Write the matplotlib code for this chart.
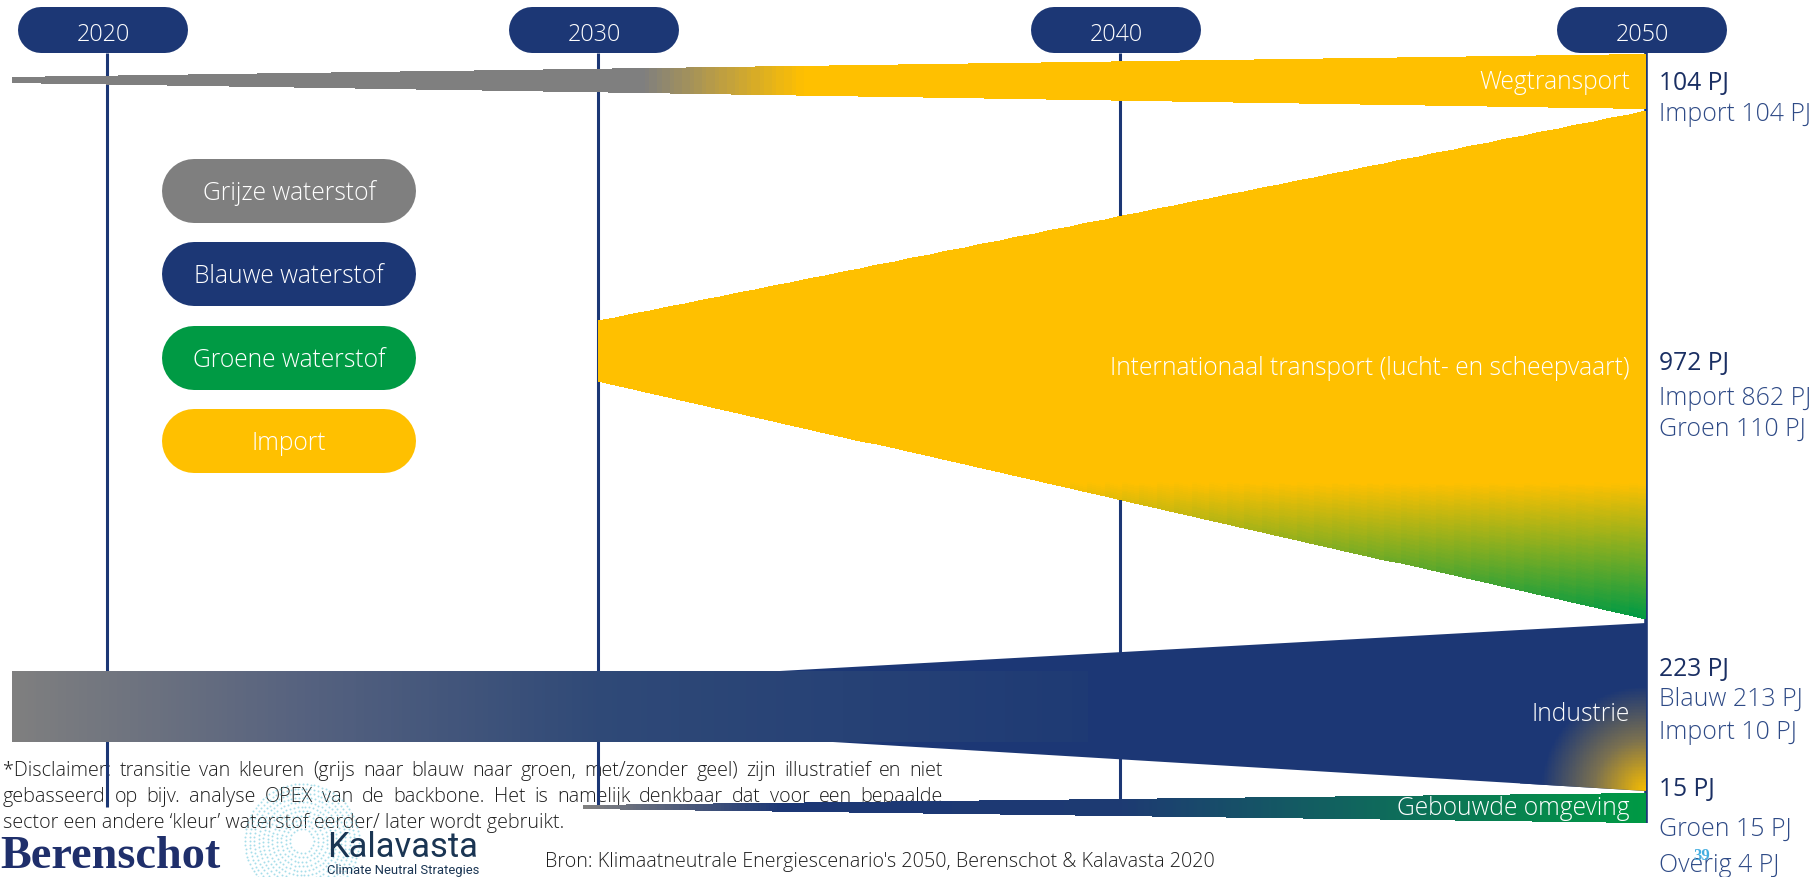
import numpy as np
import matplotlib
matplotlib.use("Agg")
import matplotlib.pyplot as plt
from matplotlib.colors import LinearSegmentedColormap, Normalize
from matplotlib.patches import Polygon

# ---------------- data ----------------
years = [2020, 2030, 2040, 2050]
year_labels = ["2020", "2030", "2040", "2050"]
legend_labels = ["Grijze waterstof", "Blauwe waterstof", "Groene waterstof", "Import"]
sector_names = ["Wegtransport",
                "Internationaal transport (lucht- en scheepvaart)",
                "Industrie",
                "Gebouwde omgeving"]
sector_total_pj = [104, 972, 223, 15]
split_names = [["Import"], ["Import", "Groen"], ["Blauw", "Import"], ["Groen", "Overig"]]
split_pj = [[104], [862, 110], [213, 10], [15, 4]]
disclaimer = [
    "*Disclaimer: transitie van kleuren (grijs naar blauw naar groen, met/zonder geel) zijn illustratief en niet",
    "gebasseerd op bijv. analyse OPEX van de backbone. Het is namelijk denkbaar dat  voor een bepaalde",
    "sector een andere \u2018kleur\u2019 waterstof eerder/ later wordt gebruikt.",
]
source = "Bron: Klimaatneutrale Energiescenario's 2050, Berenschot & Kalavasta 2020"
page_no = "39"

# ---------------- style / layout ----------------
NAVY = "#1c3775"
GREY = "#7f7f7f"
GREEN = "#009a44"
YELLOW = "#ffc000"
legend_colors = [GREY, NAVY, GREEN, YELLOW]
FONT = ["Open Sans", "DejaVu Sans"]
W, H = 1816, 878
YEAR_PX = [107, 598, 1120, 1646]          # pixel position of each year line
_sl = (YEAR_PX[1] - YEAR_PX[0]) / 10.0
_sr = (YEAR_PX[3] - YEAR_PX[2]) / 10.0
YR_EXT = [1990] + years + [2080]
PX_EXT = [YEAR_PX[0] - 30 * _sl] + YEAR_PX + [YEAR_PX[-1] + 30 * _sr]


def yr2px(v):
    return np.interp(np.asarray(v, float), YR_EXT, PX_EXT)


def px2yr(p):
    return np.interp(np.asarray(p, float), PX_EXT, YR_EXT)


fig = plt.figure(figsize=(W / 100, H / 100), dpi=100)
ov = fig.add_axes([0, 0, 1, 1], zorder=3)
ov.set_xlim(0, W); ov.set_ylim(H, 0); ov.axis("off")
ax = fig.add_axes([0, 0, 1, 1], zorder=2)
ax.set_xscale("function", functions=(yr2px, px2yr))
ax.set_xlim(float(px2yr(0)), float(px2yr(W)))
ax.set_ylim(H, 0)
ax.axis("off")
R = fig.canvas.get_renderer()
PT = 72.0 / fig.dpi   # points per pixel


def xp(yr):
    """x of a year in overlay (pixel) coordinates, via the axes transforms."""
    d = ax.transData.transform((yr, 0))
    return ov.transData.inverted().transform(d)[0]


def cmap_from(stops, lo, hi, name):
    pts = [((p - lo) / (hi - lo), c) for p, c in stops]
    return LinearSegmentedColormap.from_list(name, pts)


def band_mesh(x0, x1, top, bot, cmap, valfun, nx=200, ny=1, zorder=3, clip=None):
    p0, p1 = float(yr2px(x0)), float(yr2px(x1))
    px = np.linspace(p0, p1, nx + 1)
    t = (px - p0) / (p1 - p0)
    yt = top[0] + (top[1] - top[0]) * t
    yb = bot[0] + (bot[1] - bot[0]) * t
    s = np.linspace(0, 1, ny + 1)[:, None]
    Y = yt[None, :] + (yb - yt)[None, :] * s
    X = np.broadcast_to(px2yr(px)[None, :], Y.shape)
    PXc = np.broadcast_to((0.5 * (px[1:] + px[:-1]))[None, :], (ny, nx))
    Yc = 0.25 * (Y[:-1, :-1] + Y[1:, :-1] + Y[:-1, 1:] + Y[1:, 1:])
    C = valfun(PXc, Yc)
    m = ax.pcolormesh(X, Y, C, cmap=cmap, norm=Normalize(0, 1), shading="flat",
                      antialiased=False, edgecolors="none", zorder=zorder)
    if clip is not None:
        m.set_clip_path(clip)
    return m


def pill(cx, cy, width, height, color):
    """Stadium-shaped pill drawn as a thick round-capped line in pixel space."""
    half = (width - height) / 2.0
    ov.plot([cx - half, cx + half], [cy, cy], color=color, lw=height * PT,
            solid_capstyle="round", zorder=2)


# ---------------- year lines ----------------
line_bottom = [808, 808, 800, 824]
for yr, yb, lw in zip(years, line_bottom, [2.2, 2.2, 2.2, 2.6]):
    ax.vlines(yr, 54, yb, color=NAVY, lw=lw, zorder=2)

# ---------------- flows ----------------
LEFT = float(px2yr(12))
# Wegtransport: grey -> yellow
cm_weg = cmap_from([(12, GREY), (643, GREY), (804, YELLOW), (1646, YELLOW)], 12, 1646, "weg")
band_mesh(LEFT, years[3], (78, 55), (84, 110), cm_weg,
          lambda p, y: (p - 12) / (1646 - 12), nx=400)

# Internationaal transport: vertical yellow -> green
cm_int = cmap_from([(112, YELLOW), (485, YELLOW), (620, GREEN)], 112, 620, "int")
band_mesh(years[1], years[3], (322, 112), (382, 620), cm_int,
          lambda p, y: np.clip((y - 112) / (620 - 112), 0, 1), nx=60, ny=300)

# Industrie: navy body + grey->navy bar + yellow glow
ind_poly = Polygon([(float(px2yr(780)), 672), (years[3], 624), (years[3], 792),
                    (float(px2yr(833)), 743)], closed=True, fc=NAVY, ec="none", zorder=3)
ax.add_patch(ind_poly)
cm_ind = cmap_from([(12, GREY), (300, "#56627f"), (600, "#2f4977"), (1088, "#1e3a74")],
                   12, 1088, "ind")
band_mesh(LEFT, float(px2yr(1088)), (672, 672), (743, 743), cm_ind,
          lambda p, y: (p - 12) / (1088 - 12), nx=400, zorder=3.2)
cm_glow = LinearSegmentedColormap.from_list("glow", [(0, "#f7bd00"), (0.5, "#7a7050"), (1, NAVY)])
band_mesh(float(px2yr(1520)), years[3], (660, 660), (795, 795), cm_glow,
          lambda p, y: np.clip(np.hypot(p - 1646, y - 792) / 105, 0, 1),
          nx=90, ny=90, zorder=3.3, clip=ind_poly)

# Gebouwde omgeving
cm_geb = cmap_from([(583, "#808080"), (780, NAVY), (1120, "#1d3a72"), (1646, GREEN)],
                   583, 1646, "geb")
band_mesh(float(px2yr(583)), years[3], (806, 794), (810, 824), cm_geb,
          lambda p, y: (p - 583) / (1646 - 583), nx=400)


# ---------------- text helpers ----------------
def fit_size(s, target, **kw):
    t = ov.text(0, 0, s, fontsize=20, **kw)
    w = t.get_window_extent(renderer=R).width
    t.remove()
    return 20.0 * target / w


LIGHT = dict(family=FONT, fontweight=300)

# ---------------- year pills ----------------
fs_year = fit_size("2020", 53, **LIGHT)
for yr, lab in zip(years, year_labels):
    cx = xp(yr) - 4
    pill(cx, 31, 170, 46, NAVY)
    ov.text(cx, 41, lab, ha="center", va="baseline", color="white", fontsize=fs_year,
            zorder=4, **LIGHT)

# ---------------- legend pills ----------------
fs_leg = fit_size(legend_labels[0], 174, **LIGHT)
for lab, col, top in zip(legend_labels, legend_colors, [160, 243, 327, 410]):
    pill(289, top + 32, 254, 64, col)
    ov.text(289, top + 40, lab, ha="center", va="baseline", color="white",
            fontsize=fs_leg, zorder=4, **LIGHT)

# ---------------- flow labels ----------------
fs_band = fit_size(sector_names[1], 522, **LIGHT)
x_end = xp(years[3])
for name, yb in zip(sector_names, [89, 375, 721, 815]):
    ov.text(x_end - 16, yb, name, ha="right", va="baseline", color="white",
            fontsize=fs_band, zorder=4, **LIGHT)

# ---------------- right-hand values ----------------
fs_tot = fit_size("223 PJ", 70, family=FONT)
fs_sub = fit_size("Import 862 PJ", 152, **LIGHT)
right_y = [[81, 112], [361, 396, 427], [667, 697, 730], [787, 827, 863]]
for tot, names, vals, ys in zip(sector_total_pj, split_names, split_pj, right_y):
    ov.text(x_end + 13, ys[0] + 9, f"{tot} PJ", ha="left", va="baseline",
            color="#1a2f63", fontsize=fs_tot, family=FONT)
    for n, v, y in zip(names, vals, ys[1:]):
        ov.text(x_end + 13, y + 9, f"{n} {v} PJ", ha="left", va="baseline",
                color="#2e4a86", fontsize=fs_sub, **LIGHT)

# ---------------- disclaimer (justified) ----------------
fs_dis = fit_size(disclaimer[2], 563, **LIGHT)
dis_base = [776, 802, 828]
for i, (line, yb) in enumerate(zip(disclaimer, dis_base)):
    if i < 2:
        words = line.split()
        arts = [ax.text(0, yb, w, transform=ov.transData, ha="left", va="baseline",
                        color="#1e1e1e", fontsize=fs_dis, zorder=1, **LIGHT) for w in words]
        widths = [a.get_window_extent(renderer=R).width for a in arts]
        gap = (943 - 3 - sum(widths)) / (len(words) - 1)
        x = 3.0
        for a, wd in zip(arts, widths):
            a.set_x(x)
            x += wd + gap
    else:
        ax.text(3, yb, line, transform=ov.transData, ha="left", va="baseline",
                color="#1e1e1e", fontsize=fs_dis, zorder=1, **LIGHT)

# ---------------- source & logos ----------------
fs_src = fit_size(source, 670, **LIGHT)
ov.text(545, 867, source, ha="left", va="baseline", color="#1e1e1e", fontsize=fs_src, **LIGHT)

fs_ber = fit_size("Berenschot", 220, family=["Liberation Serif", "DejaVu Serif"], fontweight="bold")
ov.text(0, 868, "Berenschot", ha="left", va="baseline", color="#1f2f6b", fontsize=fs_ber,
        family=["Liberation Serif", "DejaVu Serif"], fontweight="bold")

# decorative dotted ring of the Kalavasta logo
for k, r in enumerate(np.arange(12, 58, 4.5)):
    th = np.linspace(0, 2 * np.pi, int(r * 1.6), endpoint=False) + k * 0.3
    ov.scatter(302 + r * np.cos(th), 842 + r * np.sin(th), s=2.0, color="#6cc7dc",
               alpha=0.6, linewidths=0, zorder=1)

fs_kal = fit_size("Kalavasta", 151, family=["Roboto", "DejaVu Sans"])
ov.text(327, 857, "Kalavasta", ha="left", va="baseline", color="#1a3553", fontsize=fs_kal,
        family=["Roboto", "DejaVu Sans"], zorder=3)
fs_cns = fit_size("Climate Neutral Strategies", 151, family=["Roboto", "DejaVu Sans"])
ov.text(327, 874, "Climate Neutral Strategies", ha="left", va="baseline", color="#1a3553",
        fontsize=fs_cns, family=["Roboto", "DejaVu Sans"], zorder=3)

ov.text(1702, 860, page_no, ha="center", va="baseline", color="#45aee0", fontsize=12,
        family=["Liberation Serif", "DejaVu Serif"], fontweight="bold", zorder=5)

fig.savefig("out.png", dpi=100, facecolor="white")
